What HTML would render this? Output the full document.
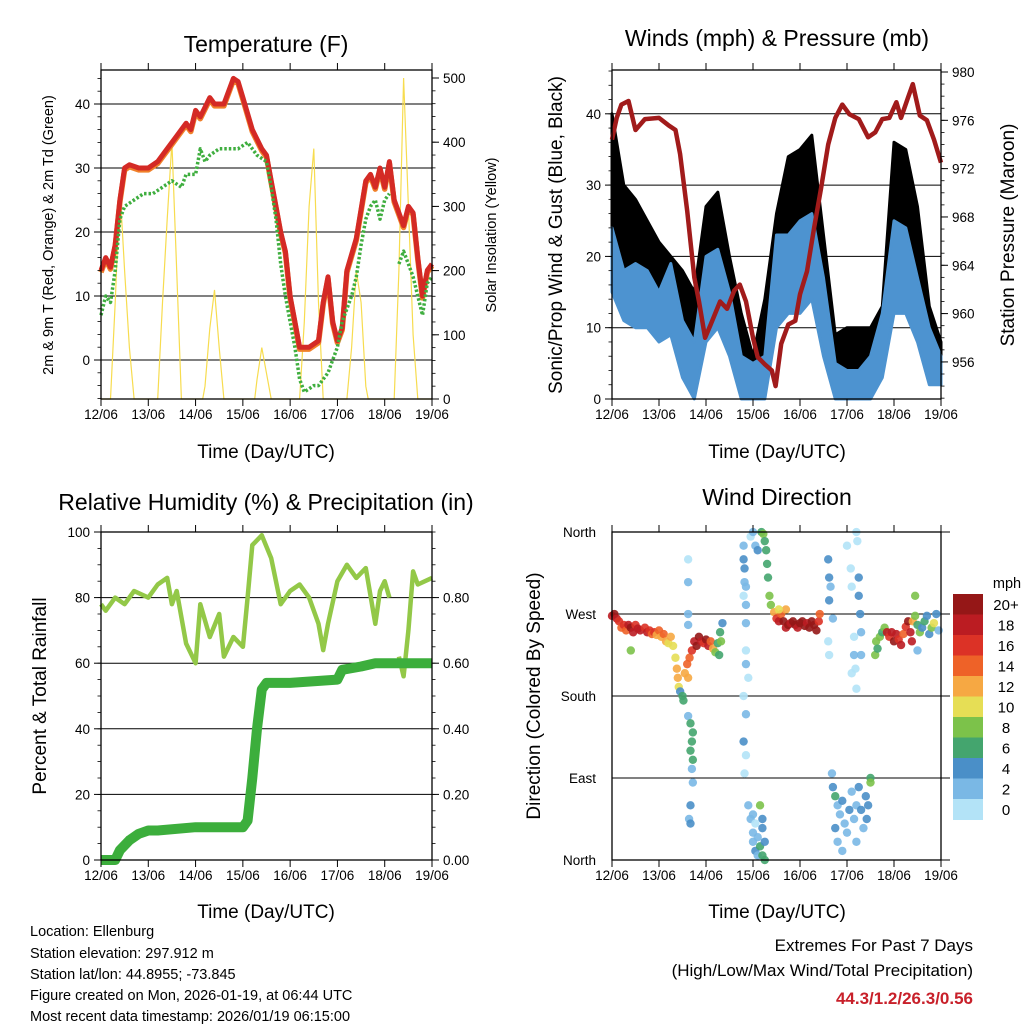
<!DOCTYPE html>
<html><head><meta charset="utf-8"><title>Station charts</title>
<style>
html,body{margin:0;padding:0;background:#fff;}
svg{display:block;font-family:"Liberation Sans",Arial,sans-serif;}
</style></head>
<body>
<svg id="chart" width="1024" height="1024" viewBox="0 0 1024 1024">
<rect x="0" y="0" width="1024" height="1024" fill="#fff"/>
<text x="266" y="52" font-size="23" text-anchor="middle">Temperature (F)</text>
<text x="777" y="46" font-size="23" text-anchor="middle">Winds (mph) &amp; Pressure (mb)</text>
<text x="266" y="510" font-size="23" text-anchor="middle">Relative Humidity (%) &amp; Precipitation (in)</text>
<text x="777" y="505" font-size="23" text-anchor="middle">Wind Direction</text>
<text x="266" y="458" font-size="19" text-anchor="middle">Time (Day/UTC)</text>
<text x="777" y="458" font-size="19" text-anchor="middle">Time (Day/UTC)</text>
<text x="266" y="918" font-size="19" text-anchor="middle">Time (Day/UTC)</text>
<text x="777" y="918" font-size="19" text-anchor="middle">Time (Day/UTC)</text>
<text transform="translate(53,235) rotate(-90)" font-size="14.5" text-anchor="middle">2m &amp; 9m T (Red, Orange) &amp; 2m Td (Green)</text>
<text transform="translate(496,235) rotate(-90)" font-size="14.5" text-anchor="middle">Solar Insolation (Yellow)</text>
<text transform="translate(562,235) rotate(-90)" font-size="19" text-anchor="middle">Sonic/Prop Wind &amp; Gust (Blue, Black)</text>
<text transform="translate(1014,235) rotate(-90)" font-size="19" text-anchor="middle">Station Pressure (Maroon)</text>
<text transform="translate(46,696) rotate(-90)" font-size="19" text-anchor="middle">Percent &amp; Total Rainfall</text>
<text transform="translate(540,696) rotate(-90)" font-size="19" text-anchor="middle">Direction (Colored By Speed)</text>
<g font-size="14.5">
<text x="30" y="936">Location: Ellenburg</text>
<text x="30" y="958">Station elevation: 297.912 m</text>
<text x="30" y="979">Station lat/lon: 44.8955; -73.845</text>
<text x="30" y="1000">Figure created on Mon, 2026-01-19, at 06:44 UTC</text>
<text x="30" y="1021">Most recent data timestamp: 2026/01/19 06:15:00</text>
</g>
<text x="973" y="951" font-size="17" text-anchor="end">Extremes For Past 7 Days</text>
<text x="973" y="976" font-size="17" text-anchor="end">(High/Low/Max Wind/Total Precipitation)</text>
<text x="973" y="1004" font-size="17" font-weight="bold" fill="#c8202a" text-anchor="end">44.3/1.2/26.3/0.56</text>
</svg>
<script>
// ---------- data ----------
const dayLabels = ["12/06","13/06","14/06","15/06","16/06","17/06","18/06","19/06"];
const tempTicks = [0,10,20,30,40];
const solarTicks = [0,100,200,300,400,500];
const windTicks = [0,10,20,30,40];
const presTicks = [956,960,964,968,972,976,980];
const rhTicks = [0,20,40,60,80,100];
const rainTicks = ["0.00","0.20","0.40","0.60","0.80"];
const dirLabels = ["North","East","South","West","North"];
const dirTicks = [0,90,180,270,360];
const speedLabels = ["0","2","4","6","8","10","12","14","16","18","20+"];

const tempT = [0,0.1,0.2,0.3,0.4,0.5,0.6,0.8,1.0,1.2,1.4,1.6,1.8,1.9,2.0,2.1,2.3,2.4,2.6,2.8,2.9,3.0,3.2,3.4,3.5,3.6,3.7,3.8,3.9,4.0,4.1,4.2,4.4,4.6,4.7,4.8,4.9,5.0,5.1,5.2,5.4,5.6,5.7,5.8,5.9,6.0,6.1,6.2,6.3,6.4,6.5,6.6,6.7,6.8,6.9,7.0];
const tempV = [14,16,14.5,18,25,30,30.5,30,30,31,33,35,37,36,39,38,41,40,40,44,43.5,41,36,33,32,28,24,20,17,10,6,2,2,3,9,13,6,3,5,14,19,28,29,27,30,27,31,25,23,21,24,23,16,10,14,15];
const dewT = [0,0.1,0.2,0.3,0.4,0.5,0.7,0.9,1.1,1.3,1.5,1.7,1.8,2.0,2.1,2.2,2.3,2.5,2.7,2.9,3.1,3.3,3.5,3.6,3.7,3.8,3.9,4.0,4.1,4.2,4.3,4.5,4.6,4.8,4.9,5.0,5.1,5.3,5.4,5.5,5.6,5.7,5.8,5.9,6.0,6.1,6.2,6.3,6.4,6.5,6.6,6.7,6.8,6.9,7.0];
const dewV = [7,10,9,14,22,24,25,26,26,27,28,27,29,29,33,31,32,33,33,33,34,32,31,27,22,15,10,6,2,-3,-5,-4,-4,-2,0,2,6,10,13,18,22,24,25,22,25,26,null,15,17,15,13,10,7,12,13];
const solarT = [0,0.2,0.3,0.4,0.5,0.6,0.7,1.2,1.3,1.4,1.5,1.6,1.7,2.15,2.2,2.3,2.4,2.5,2.6,3.25,3.3,3.4,3.5,3.6,4.2,4.3,4.4,4.5,4.6,4.7,5.2,5.3,5.4,5.5,5.6,5.65,6.2,6.3,6.4,6.5,6.6,6.7,7.0];
const solarV = [0,0,150,330,200,80,0,0,150,280,400,200,0,0,20,110,170,80,0,0,30,80,40,0,0,120,300,390,150,0,0,80,200,150,20,0,0,200,500,300,100,0,0];

const windT = [0,0.25,0.5,0.75,1,1.25,1.5,1.75,2,2.25,2.5,2.75,3,3.25,3.5,3.75,4,4.25,4.5,4.75,5,5.25,5.5,5.75,6,6.25,6.5,6.75,7];
const windHi = [24,18,19,18,15,19,11,8,20,21,15,6,5,6,23,23,25,26,17,5,4,4,6,12,25,24,17,10,6];
const windLo = [15,11,10,10,8,9,3,0,8,10,6,0,0,0,10,12,12,14,6,0,0,0,0,3,12,12,8,2,2];
const gustHi = [40,30,28,25,22,20,18,15,27,29,20,12,6,14,26,34,35,37,23,9,10,10,10,13,36,35,27,13,8];
const presT = [0,0.1,0.2,0.35,0.5,0.7,1.0,1.2,1.35,1.45,1.6,1.75,1.85,1.98,2.1,2.3,2.45,2.6,2.72,2.85,3.0,3.1,3.25,3.4,3.48,3.6,3.75,3.9,4.0,4.15,4.3,4.45,4.6,4.75,4.9,5.05,5.25,5.45,5.6,5.75,5.9,6.05,6.15,6.3,6.4,6.55,6.7,6.85,7.0];
const presV = [974.4,976.2,977.3,977.6,975.2,976.1,976.2,975.6,975.2,973.2,968.5,963,961,958,959.1,961,960.4,961.9,962.4,961,958,956.4,955.8,955.3,954,957.5,959.1,959.4,961.6,963.5,967.1,970.4,974,976.2,977.3,976.5,976.1,974.6,975,976.1,976.2,977.5,976.2,977.9,979,976.4,976,974.4,972.5];

const rhT = [0,0.1,0.3,0.5,0.7,1.0,1.2,1.4,1.5,1.6,1.8,2.0,2.1,2.3,2.5,2.6,2.8,3.0,3.1,3.2,3.4,3.6,3.8,4.0,4.2,4.4,4.6,4.7,4.8,5.0,5.2,5.4,5.6,5.8,5.9,6.0,6.1,6.2,6.3,6.4,6.5,6.6,6.7,7.0];
const rhV = [78,76,80,78,82,80,84,86,78,82,66,60,78,68,75,62,68,65,80,96,99,92,78,82,84,80,72,64,72,85,90,86,89,72,82,85,80,null,62,56,70,88,84,86];
const rainT = [0,0.3,0.4,0.6,0.8,1.0,1.2,2.0,3.0,3.1,3.2,3.3,3.4,3.5,4.0,5.0,5.1,5.5,5.8,7.0];
const rainV = [0,0,0.03,0.06,0.08,0.09,0.09,0.10,0.10,0.12,0.25,0.40,0.52,0.54,0.54,0.55,0.58,0.59,0.60,0.60];

const dirT = [0,0.05,0.1,0.15,0.2,0.25,0.3,0.35,0.4,0.45,0.5,0.55,0.6,0.7,0.75,0.8,0.85,0.9,0.95,1.0,1.05,1.1,1.15,1.2,1.25,0.4,
1.3,1.35,1.38,1.4,1.42,1.45,1.5,1.52,1.55,1.6,1.62,1.65,1.7,1.75,1.8,1.85,1.9,1.95,2.0,2.05,2.1,2.15,2.2,2.25,2.3,2.35,2.32,2.28,
1.62,1.62,1.62,1.62,1.62,1.67,1.7,1.72,1.67,1.72,1.7,1.67,1.64,1.67,1.72,
2.8,2.8,2.82,2.82,2.85,2.8,2.85,2.85,2.85,2.85,2.9,2.8,2.85,2.8,2.85,2.82,
2.9,2.95,3.0,3.0,3.05,3.0,3.05,3.1,3.1,3.15,3.2,3.2,3.25,3.25,3.15,3.2,
2.95,3.0,3.05,3.1,3.18,3.22,3.25,3.28,3.3,3.32,3.35,3.38,
3.45,3.5,3.55,3.6,3.65,3.7,3.75,3.8,3.85,3.9,3.95,4.0,4.05,4.1,4.15,4.2,4.25,4.3,4.35,4.4,4.42,3.7,3.55,
4.6,4.62,4.65,4.62,4.7,4.6,4.62,
5.0,5.08,5.1,5.15,5.15,5.1,5.2,5.22,5.25,5.25,5.28,5.3,5.3,5.2,5.18,
4.68,4.7,4.75,4.8,4.85,4.9,4.95,5.0,4.8,4.75,5.05,5.1,5.15,5.2,5.25,5.3,5.35,5.4,5.45,5.5,5.42,4.9,5.2,5.5,
5.6,5.62,5.65,5.7,5.75,5.8,5.85,5.9,5.95,6.0,6.05,6.1,6.15,6.2,6.25,6.3,6.35,6.38,6.4,6.45,6.5,6.55,6.6,6.65,6.7,6.75,6.8,6.85,6.9,6.95,6.45,6.5];
const dirV = [268,270,265,262,255,258,252,258,255,250,258,254,252,255,250,252,248,250,247,252,245,248,240,238,245,230,
235,222,210,200,190,185,180,175,205,215,200,222,230,240,235,245,240,238,242,235,240,232,228,238,250,260,240,225,
330,305,270,258,158,150,130,110,120,140,100,60,45,40,85,
345,330,320,305,300,290,280,260,230,215,200,180,160,130,115,95,
60,45,50,30,40,20,10,25,5,15,35,5,0,20,60,45,
355,360,345,340,360,358,350,340,325,310,290,280,
272,265,262,270,262,255,258,260,262,258,255,260,262,257,260,255,262,258,252,262,270,275,275,
330,310,300,285,265,240,225,
345,320,300,245,225,205,360,350,310,290,270,250,225,188,210,
95,80,70,60,50,65,40,30,20,35,55,75,45,60,80,55,35,70,60,90,45,10,20,85,
225,240,232,245,250,255,250,245,250,240,248,242,236,248,256,262,250,240,262,268,258,250,255,262,268,248,255,260,270,252,290,230];
const dirS = [18,20,18,16,14,16,14,18,20,18,16,18,18,16,18,16,14,16,12,14,12,14,12,10,12,8,
10,10,12,12,10,4,6,6,12,14,12,14,16,18,20,20,18,16,20,18,14,12,8,6,6,4,8,6,
1,2,2,2,3,6,6,6,6,6,3,4,3,4,3,
2,4,4,3,2,1,3,2,1,3,1,0,3,4,1,1,
2,2,2,2,1,2,4,2,2,6,4,6,6,4,8,4,
1,2,3,4,6,8,6,6,6,6,8,8,
12,16,18,14,20,18,20,18,20,20,18,20,20,20,18,20,20,20,20,16,14,12,10,
4,4,3,4,2,1,1,
0,1,0,1,2,1,1,0,4,4,4,2,2,0,1,
2,4,6,3,2,4,3,2,2,4,4,2,3,2,4,4,2,4,4,6,4,2,2,8,
8,8,6,8,6,8,18,16,18,20,18,16,18,14,16,20,18,18,12,8,6,8,4,6,4,4,8,10,4,2,8,2];

// ---------- drawing ----------
const NS = "http://www.w3.org/2000/svg";
const svg = document.getElementById("chart");
function mk(tag, attrs, parent) {
  const e = document.createElementNS(NS, tag);
  for (const k in attrs) e.setAttribute(k, attrs[k]);
  (parent || svg).appendChild(e);
  return e;
}
function linePath(ts, vs, xf, yf) {
  let d = "", pen = false;
  for (let i = 0; i < ts.length; i++) {
    if (vs[i] === null) { pen = false; continue; }
    d += (pen ? "L" : "M") + xf(ts[i]).toFixed(1) + " " + yf(vs[i]).toFixed(1);
    pen = true;
  }
  return d;
}
function panel(name, x0, x1, y0, y1) {
  const g = mk("g", {});
  
  
  const xs = d => x0 + d * (x1 - x0) / 7;
  return { g, x0, x1, y0, y1, xs };
}
function frame(p) {
  const r = mk("rect", { x: p.x0, y: p.y0, width: p.x1 - p.x0, height: p.y1 - p.y0, fill: "none", stroke: "#000", "stroke-width": 1.3 }, p.g);
  
  
  for (let i = 0; i < dayLabels.length; i++) {
    const x = p.xs(i);
    const tb = mk("line", { x1: x, x2: x, y1: p.y1, y2: p.y1 + 7, stroke: "#000", "stroke-width": 1 }, p.g);
    
    
    const tt = mk("line", { x1: x, x2: x, y1: p.y0, y2: p.y0 - 7, stroke: "#000", "stroke-width": 1 }, p.g);
    
    
    const lb = mk("text", { x: x, y: p.y1 + 20, "font-size": 13.5, "text-anchor": "middle" }, p.g);
    lb.textContent = dayLabels[i];
    
    
  }
}
function grid(p, ys, ext) {
  ys.forEach(y => {
    const l = mk("line", { x1: p.x0, x2: p.x1 + (ext || 0), y1: y, y2: y, stroke: "#000", "stroke-width": 1 }, p.g);
    
    
  });
}
function yAxis(p, ticks, yf, side, fmt, minorStep, lo, hi) {
  const x = side === "left" ? p.x0 : p.x1;
  const dir = side === "left" ? -1 : 1;
  if (minorStep) {
    for (let v = lo; v <= hi + 1e-9; v += minorStep) {
      const y = yf(v);
      if (y < p.y0 - 0.5 || y > p.y1 + 0.5) continue;
      const m = mk("line", { x1: x, x2: x + dir * 3.5, y1: y, y2: y, stroke: "#000", "stroke-width": 0.8 }, p.g);
      
      
    }
  }
  ticks.forEach(v => {
    const y = yf(typeof v === "string" ? parseFloat(v) : v);
    const t = mk("line", { x1: x, x2: x + dir * 7, y1: y, y2: y, stroke: "#000", "stroke-width": 1 }, p.g);
    
    
    const lb = mk("text", { x: x + dir * 11, y: y + 5, "font-size": 13.5, "text-anchor": side === "left" ? "end" : "start" }, p.g);
    lb.textContent = fmt ? fmt(v) : v;
    
    
  });
}

// Panel 1: temperature
(function () {
  const p = panel("temperature-panel", 101, 432, 70, 399);
  const yT = v => 360 - 6.4 * v;
  const yS = v => 399 - 0.642 * v;
  grid(p, tempTicks.map(yT));
  const s = mk("path", { d: linePath(solarT, solarV, p.xs, yS), fill: "none", stroke: "#f7dc4f", "stroke-width": 1.2 }, p.g);
  
  
  const o = mk("path", { d: linePath(tempT, tempV.map(v => v - 0.3), p.xs, yT), fill: "none", stroke: "#f0802a", "stroke-width": 5.5, "stroke-linejoin": "round" }, p.g);
  
  
  const r = mk("path", { d: linePath(tempT, tempV, p.xs, yT), fill: "none", stroke: "#d42a25", "stroke-width": 5, "stroke-linejoin": "round" }, p.g);
  
  
  const g = mk("path", { d: linePath(dewT, dewV, p.xs, yT), fill: "none", stroke: "#3fae3f", "stroke-width": 3.5, "stroke-dasharray": "2.5 2", "stroke-linejoin": "round" }, p.g);
  
  
  frame(p);
  yAxis(p, tempTicks, yT, "left", null, 2, -6, 45);
  yAxis(p, solarTicks, yS, "right", null, 20, 0, 510);
})();

// Panel 2: winds & pressure
(function () {
  const p = panel("winds-panel", 612, 941, 70, 399);
  const yW = v => 399 - 7.13 * v;
  const yP = v => 72 + (980 - v) * 12.08;
  grid(p, windTicks.filter(v => v > 0).map(yW));
  let top = "", bot = "";
  for (let i = 0; i < windT.length; i++) top += (i ? "L" : "M") + p.xs(windT[i]).toFixed(1) + " " + yW(gustHi[i]).toFixed(1);
  for (let i = windT.length - 1; i >= 0; i--) bot += "L" + p.xs(windT[i]).toFixed(1) + " " + yW(windLo[i] + 2).toFixed(1);
  const gp = mk("path", { d: top + bot + "Z", fill: "#000", stroke: "#000", "stroke-width": 3, "stroke-linejoin": "round" }, p.g);
  
  
  let wt = "", wb = "";
  for (let i = 0; i < windT.length; i++) wt += (i ? "L" : "M") + p.xs(windT[i]).toFixed(1) + " " + yW(windHi[i]).toFixed(1);
  for (let i = windT.length - 1; i >= 0; i--) wb += "L" + p.xs(windT[i]).toFixed(1) + " " + yW(windLo[i]).toFixed(1);
  const wp = mk("path", { d: wt + wb + "Z", fill: "#4d93d0", stroke: "#4d93d0", "stroke-width": 3, "stroke-linejoin": "round" }, p.g);
  
  
  const pr = mk("path", { d: linePath(presT, presV, p.xs, yP), fill: "none", stroke: "#a11b1b", "stroke-width": 4.5, "stroke-linejoin": "round" }, p.g);
  
  
  frame(p);
  yAxis(p, windTicks, yW, "left", null, 2, 0, 46);
  yAxis(p, presTicks, yP, "right", null, 1, 953, 980);
})();

// Panel 3: humidity & rain
(function () {
  const p = panel("humidity-panel", 101, 432, 532, 860);
  const yR = v => 860 - 3.28 * v;
  const yIn = v => 860 - 328 * v;
  grid(p, rhTicks.filter(v => v > 0 && v < 100).map(yR));
  const h = mk("path", { d: linePath(rhT, rhV, p.xs, yR), fill: "none", stroke: "#93c848", "stroke-width": 4.5, "stroke-linejoin": "round" }, p.g);
  
  
  const r = mk("path", { d: linePath(rainT, rainV, p.xs, yIn), fill: "none", stroke: "#3cae3c", "stroke-width": 10, "stroke-linejoin": "round" }, p.g);
  
  
  frame(p);
  yAxis(p, rhTicks, yR, "left", null, 5, 0, 100);
  yAxis(p, rainTicks, yIn, "right", v => v, 0.05, 0, 1);
})();

// Panel 4: wind direction
(function () {
  const p = panel("wind-direction-panel", 612, 941, 532, 860);
  const yD = v => 860 - v * 0.911;
  const colors = ["#b3e3f7","#7ab8e5","#4a8fc8","#44a56e","#7cc24a","#e6de55","#f6a843","#ee6228","#dc3226","#bb1c22","#951717"];
  grid(p, dirTicks.map(yD), 9);
  for (let i = 0; i < dirT.length; i++) {
    const ci = Math.min(10, Math.floor(dirS[i] / 2));
    const c = mk("circle", { cx: p.xs(dirT[i]), cy: yD(dirV[i]), r: 4.2, fill: colors[ci], "fill-opacity": 0.9 }, p.g);
    
    
  }
  frame(p);
  dirTicks.forEach((v, i) => {
    const lb = mk("text", { x: p.x0 - 16, y: yD(v) + 5, "font-size": 13.5, "text-anchor": "end" }, p.g);
    lb.textContent = dirLabels[i];
    
    
  });
  const cb = mk("g", {});
  
  
  const bh = 20.5, by = 594;
  for (let i = 0; i < speedLabels.length; i++) {
    const k = speedLabels.length - 1 - i;
    const rc = mk("rect", { x: 953, y: by + i * bh, width: 30, height: bh + 0.5, fill: colors[k] }, cb);
    
    
    const t = mk("text", { x: 1006, y: by + i * bh + bh / 2 + 5.5, "font-size": 15, "text-anchor": "middle" }, cb);
    t.textContent = speedLabels[k];
    
    
  }
  const u = mk("text", { x: 1007, y: 588, "font-size": 14.5, "text-anchor": "middle" }, cb);
  u.textContent = "mph";
  
  
})();
</script>
</body></html>
